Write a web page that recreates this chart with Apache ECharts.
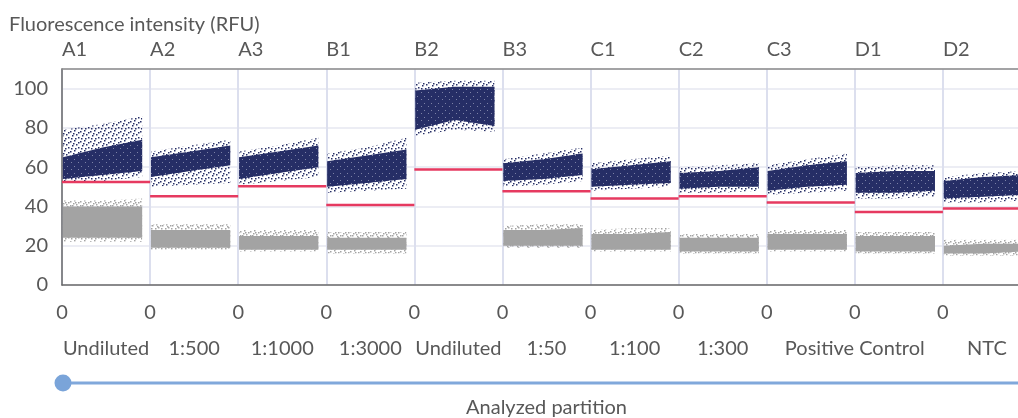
<!DOCTYPE html>
<html>
<head>
<meta charset="utf-8">
<script src="https://cdn.jsdelivr.net/npm/echarts@6/dist/echarts.min.js"></script>
<style>
  html, body { margin: 0; padding: 0; background: #fff; }
  #chart { width: 1018px; height: 418px; }
</style>
</head>
<body>
<div id="chart"></div>
<script>
// wells along the partition axis, each one unit wide
var wells = ['A1', 'A2', 'A3', 'B1', 'B2', 'B3', 'C1', 'C2', 'C3', 'D1', 'D2'];
var sampleNames = ['Undiluted', '1:500', '1:1000', '1:3000', 'Undiluted', '1:50', '1:100', '1:300', 'Positive Control', 'NTC'];
var sampleCenters = [0.5, 1.5, 2.5, 3.5, 4.5, 5.5, 6.5, 7.5, 9, 10.5];
var yTicks = [0, 20, 40, 60, 80, 100];

// threshold per well (RFU)
var thresholds = [52.4, 45.2, 50.3, 40.7, 58.8, 47.8, 44.0, 45.2, 42.0, 37.2, 38.9];

// positive partitions: [start, middle, end] of each well, RFU
var posCoreLow  = [[54, 56, 58], [55, 58, 61], [54, 57, 60], [50, 52, 54], [79, 84, 81], [53, 54, 56], [50, 51, 52], [49, 50, 50], [48, 50, 51], [47, 47, 48], [44, 45, 46]];
var posCoreHigh = [[65, 70, 74], [65, 68, 71], [65, 68, 71], [63, 66, 69], [99, 101, 101], [62, 64, 67], [59, 61, 63], [57, 58, 60], [58, 61, 63], [57, 58, 58], [53, 55, 56]];
var posHaloLow  = [[52, 53, 55], [50, 51, 52], [51, 53, 55], [47, 48, 49], [76, 79, 78], [50, 51, 53], [48, 49, 50], [47, 47, 48], [46, 47, 48], [44, 44, 45], [42, 42, 43]];
var posHaloHigh = [[79, 82, 86], [68, 71, 74], [68, 71, 75], [67, 70, 75], [103, 104, 104], [64, 67, 70], [62, 64, 66], [60, 61, 62], [61, 64, 67], [60, 61, 61], [55, 57, 58]];

// negative partitions (B2 has none)
var negCoreLow  = [[24, 24, 24], [19, 19, 19], [18, 18, 18], [18, 18, 18], null, [20, 20, 20], [18, 18, 18], [17, 17, 17], [18, 18, 18], [17, 17, 17], [16, 16, 17]];
var negCoreHigh = [[40, 40, 40], [28, 28, 28], [25, 25, 25], [24, 24, 24], null, [28, 28, 29], [26, 26, 27], [24, 24, 24], [26, 26, 26], [25, 25, 25], [20, 21, 21]];
var negHaloLow  = [[22, 22, 22], [18, 18, 18], [17, 17, 17], [16, 16, 16], null, [19, 19, 19], [17, 17, 17], [16, 16, 16], [17, 17, 17], [16, 16, 16], [15, 15, 15]];
var negHaloHigh = [[43, 43, 44], [31, 31, 31], [28, 28, 28], [27, 27, 27], null, [30, 31, 31], [28, 29, 29], [26, 26, 26], [28, 28, 28], [27, 27, 27], [23, 23, 23]];

// share of each well that holds partitions
var fillStart = 0.01;
var fillEnd = 0.91;

var NAVY = '#262e66';
var GRAY = '#a3a3a3';
var RED = '#e63a60';
var TEXT = '#585858';
var FONT = 'Lato';

function dotTile(color, dots, size, bg, dot) {
  var c = document.createElement('canvas');
  c.width = size;
  c.height = size;
  var ctx = c.getContext('2d');
  if (bg) {
    ctx.fillStyle = bg;
    ctx.fillRect(0, 0, size, size);
  }
  ctx.fillStyle = color;
  dots.forEach(function (d) { ctx.fillRect(d[0], d[1], dot || 1.5, dot || 1.5); });
  return { image: c, repeat: 'repeat' };
}

var sparseDots = [[0, 1], [4, 0], [6, 4], [2, 5], [5, 8], [8, 2], [1, 8], [8, 7], [3, 3]];
var navyHalo = dotTile(NAVY, sparseDots, 10);
var grayHalo = dotTile(GRAY, sparseDots.concat([[7, 6], [0, 5], [5, 2]]), 10);
var navyCore = dotTile('#7d82a6', [[1, 1], [4, 5]], 7, NAVY, 1);

function buildBands(coreLow, coreHigh, haloLow, haloHigh) {
  var out = [];
  for (var i = 0; i < wells.length; i++) {
    if (!coreLow[i]) continue;
    out.push([i].concat(coreLow[i], coreHigh[i], haloLow[i], haloHigh[i]));
  }
  return out;
}

function bandRenderer(coreFill, haloFill) {
  return function (params, api) {
    var w = api.value(0);
    var xs = [w + fillStart, w + (fillStart + fillEnd) / 2, w + fillEnd];
    function poly(offLow, offHigh) {
      var pts = [];
      var k;
      for (k = 0; k < 3; k++) pts.push(api.coord([xs[k], api.value(offLow + k)]));
      for (k = 2; k >= 0; k--) pts.push(api.coord([xs[k], api.value(offHigh + k)]));
      return pts;
    }
    return {
      type: 'group',
      children: [
        { type: 'polygon', shape: { points: poly(7, 10) }, style: { fill: haloFill } },
        { type: 'polygon', shape: { points: poly(1, 4) }, style: { fill: coreFill } }
      ]
    };
  };
}

var thresholdData = thresholds.map(function (t, i) { return [i, t]; });

var chart = echarts.init(document.getElementById('chart'));

chart.setOption({
  animation: false,
  title: {
    text: 'Fluorescence intensity (RFU)',
    left: 4,
    top: 10,
    textStyle: { fontFamily: FONT, fontSize: 20, fontWeight: 'normal', color: TEXT }
  },
  grid: { left: 62, width: 969, top: 69, height: 216, outerBoundsMode: 'none', containLabel: false },
  xAxis: [
    {
      type: 'value', position: 'bottom', min: 0, max: 11, interval: 1,
      axisLine: { onZero: false, lineStyle: { color: '#6a6a6a', width: 1.5 } },
      axisTick: { show: false },
      splitLine: { show: true, lineStyle: { color: '#dcdfee', width: 2 } },
      axisLabel: {
        margin: 18, fontFamily: FONT, fontSize: 20, color: TEXT,
        formatter: function (v) { return v < 11 ? '0' : ''; }
      },
      name: 'Analyzed partition', nameLocation: 'middle', nameGap: 113,
      nameTextStyle: { fontFamily: FONT, fontSize: 20, color: TEXT }
    },
    {
      type: 'value', position: 'bottom', min: 0, max: 11, interval: 0.5,
      axisLine: { show: false }, axisTick: { show: false }, splitLine: { show: false },
      axisLabel: {
        margin: 54, fontFamily: FONT, fontSize: 20, color: TEXT,
        showMinLabel: true, showMaxLabel: true,
        formatter: function (v) {
          var k = sampleCenters.indexOf(v);
          return k >= 0 ? sampleNames[k] : '';
        }
      }
    },
    {
      type: 'value', position: 'top', min: 0, max: 11, interval: 1,
      axisLine: { onZero: false, lineStyle: { color: '#8a8a8a', width: 1.5 } },
      axisTick: { show: false }, splitLine: { show: false },
      axisLabel: {
        margin: 9, align: 'left', fontFamily: FONT, fontSize: 20, color: TEXT,
        formatter: function (v) { return wells[Math.round(v)] || ''; }
      }
    }
  ],
  yAxis: {
    type: 'value', min: 0, max: 110, interval: 20,
    axisLine: { show: true, lineStyle: { color: '#6a6a6a', width: 1.5 } },
    axisTick: { show: false },
    splitLine: { lineStyle: { color: '#e6e7f1', width: 1.5 } },
    axisLabel: {
      margin: 14, fontFamily: FONT, fontSize: 20, color: TEXT,
      formatter: function (v) { return yTicks.indexOf(v) >= 0 ? String(v) : ''; }
    }
  },
  graphic: [
    { type: 'line', shape: { x1: 63, y1: 383, x2: 1018, y2: 383 }, style: { stroke: '#80a8db', lineWidth: 3 } },
    { type: 'circle', shape: { cx: 63, cy: 383, r: 8.5 }, style: { fill: '#7aa4d9' } }
  ],
  series: [
    {
      name: 'Negative', type: 'custom', xAxisIndex: 0,
      data: buildBands(negCoreLow, negCoreHigh, negHaloLow, negHaloHigh),
      encode: { x: 0, y: 1 },
      renderItem: bandRenderer(GRAY, grayHalo), z: 3
    },
    {
      name: 'Positive', type: 'custom', xAxisIndex: 0,
      data: buildBands(posCoreLow, posCoreHigh, posHaloLow, posHaloHigh),
      encode: { x: 0, y: 1 },
      renderItem: bandRenderer(navyCore, navyHalo), z: 3
    },
    {
      name: 'Threshold', type: 'custom', xAxisIndex: 0,
      data: thresholdData,
      encode: { x: 0, y: 1 },
      renderItem: function (params, api) {
        var a = api.coord([api.value(0), api.value(1)]);
        var b = api.coord([api.value(0) + 1, api.value(1)]);
        return {
          type: 'line',
          shape: { x1: a[0], y1: a[1], x2: b[0], y2: b[1] },
          style: { stroke: RED, lineWidth: 2.5 }
        };
      },
      z: 4
    }
  ]
});
</script>
</body>
</html>
